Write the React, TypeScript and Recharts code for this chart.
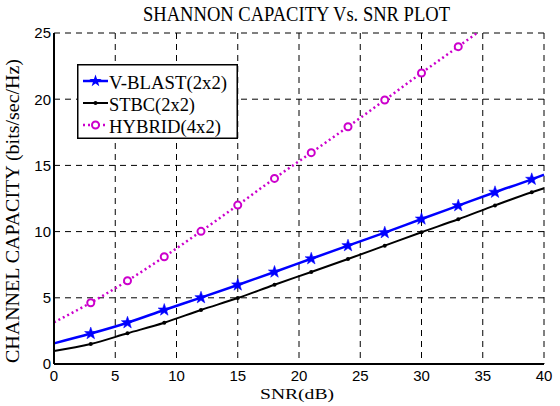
import { LineChart, Line, XAxis, YAxis, CartesianGrid, Legend, Label } from 'recharts';

const snr = [0, 3, 6, 9, 12, 15, 18, 21, 24, 27, 30, 33, 36, 39, 40];
const vblast = [1.56, 2.3, 3.12, 4.08, 5.01, 5.97, 6.95, 7.95, 8.94, 9.92, 10.95, 11.96, 12.97, 13.95, 14.3];
const stbc = [0.98, 1.51, 2.32, 3.12, 4.08, 4.98, 5.99, 6.95, 7.93, 8.94, 9.95, 10.93, 11.98, 12.97, 13.27];
const hybrid = [3.15, 4.63, 6.29, 8.1, 10.02, 12.0, 14.02, 15.96, 17.92, 19.94, 21.98, 23.97, 26.0, null, null];

const xTicks = [0, 5, 10, 15, 20, 25, 30, 35, 40];
const yTicks = [0, 5, 10, 15, 20, 25];

const seriesNames = ['V-BLAST(2x2)', 'STBC(2x2)', 'HYBRID(4x2)'];

const data = snr.map((s, i) => ({
  snr: s,
  vblast: vblast[i],
  stbc: stbc[i],
  hybrid: hybrid[i],
}));

const BLUE = '#0000ff';
const MAGENTA = '#cc00cc';
const serif = '"Liberation Serif", "Times New Roman", serif';
const sans = '"Liberation Sans", Arial, sans-serif';

// markers only at the 3 dB steps, not at the end points
const hasMarker = (p: any) => p && p.snr > 0 && p.snr < 40;

const starPoints = (cx: number, cy: number, r: number, r2: number) => {
  const pts: string[] = [];
  for (let k = 0; k < 10; k++) {
    const rad = k % 2 === 0 ? r : r2;
    const a = -Math.PI / 2 + (k * Math.PI) / 5;
    pts.push(`${cx + rad * Math.cos(a)},${cy + rad * Math.sin(a)}`);
  }
  return pts.join(' ');
};

const StarDot = (props: any) => {
  const { cx, cy, payload, index } = props;
  if (!hasMarker(payload) || cx == null || cy == null) return <g key={`s${index}`} />;
  return <polygon key={`s${index}`} points={starPoints(cx, cy, 6.5, 2.6)} fill={BLUE} stroke={BLUE} strokeWidth={0.5} />;
};

const SmallDot = (props: any) => {
  const { cx, cy, payload, index } = props;
  if (!hasMarker(payload) || cx == null || cy == null) return <g key={`d${index}`} />;
  return <circle key={`d${index}`} cx={cx} cy={cy} r={2} fill="#000" />;
};

const RingDot = (props: any) => {
  const { cx, cy, payload, index } = props;
  if (!hasMarker(payload) || cx == null || cy == null) return <g key={`r${index}`} />;
  return <circle key={`r${index}`} cx={cx} cy={cy} r={3.5} fill="#fff" stroke={MAGENTA} strokeWidth={2} />;
};

// legend rows: sample centre y, text width
const legendRows = [
  { y: 17, w: 118 },
  { y: 39, w: 86 },
  { y: 61, w: 112 },
];

const LegendBox = () => (
  <svg width={161} height={75} style={{ display: 'block' }}>
    <rect x={0.75} y={0.75} width={159.5} height={73.5} fill="#fff" stroke="#000" strokeWidth={1.5} />
    {legendRows.map((row, i) => (
      <g key={seriesNames[i]}>
        {i === 0 && (
          <>
            <line x1={6} y1={row.y} x2={31} y2={row.y} stroke={BLUE} strokeWidth={2.5} />
            <polygon points={starPoints(18.5, row.y, 6.5, 2.6)} fill={BLUE} />
          </>
        )}
        {i === 1 && (
          <>
            <line x1={6} y1={row.y} x2={31} y2={row.y} stroke="#000" strokeWidth={2} />
            <circle cx={18.5} cy={row.y} r={2} fill="#000" />
          </>
        )}
        {i === 2 && (
          <>
            <line x1={6} y1={row.y} x2={31} y2={row.y} stroke={MAGENTA} strokeWidth={2.5} strokeDasharray="2 3" />
            <circle cx={18.5} cy={row.y} r={3.5} fill="#fff" stroke={MAGENTA} strokeWidth={2} />
          </>
        )}
        <text
          x={32}
          y={row.y + 8}
          fontFamily={serif}
          fontSize={19.5}
          fill="#000"
          textLength={row.w}
          lengthAdjust="spacingAndGlyphs"
        >
          {seriesNames[i]}
        </text>
      </g>
    ))}
  </svg>
);

export default function App() {
  return (
    <div style={{ position: 'absolute', left: 0, top: 0, background: '#fff' }}>
      <LineChart width={560} height={406} data={data} margin={{ top: 33, right: 16, bottom: 0, left: 0 }}>
        <CartesianGrid stroke="#000" strokeDasharray="6 5" strokeWidth={1} xAxisId="bottom" yAxisId="left" />
        <XAxis
          xAxisId="bottom"
          dataKey="snr"
          type="number"
          domain={[0, 40]}
          ticks={xTicks}
          height={42}
          tickLine={false}
          tickSize={0}
          tickMargin={6}
          axisLine={{ stroke: '#000', strokeWidth: 2 }}
          tick={{ fill: '#000', fontSize: 15, fontFamily: sans }}
        >
          <Label
            content={() => (
              <g>
                <text
                  x={297}
                  y={399}
                  textAnchor="middle"
                  fontFamily={serif}
                  fontSize={15.5}
                  fill="#000"
                  textLength={74}
                  lengthAdjust="spacingAndGlyphs"
                >
                  SNR(dB)
                </text>
                <text
                  x={296.5}
                  y={21}
                  textAnchor="middle"
                  fontFamily={serif}
                  fontSize={20.5}
                  fill="#000"
                  textLength={307}
                  lengthAdjust="spacingAndGlyphs"
                >
                  SHANNON CAPACITY Vs. SNR PLOT
                </text>
              </g>
            )}
          />
        </XAxis>
        <XAxis
          xAxisId="top"
          orientation="top"
          dataKey="snr"
          type="number"
          domain={[0, 40]}
          height={0}
          tick={false}
          tickLine={false}
          axisLine={{ stroke: '#000', strokeWidth: 1.5 }}
        />
        <YAxis
          yAxisId="left"
          type="number"
          domain={[0, 25]}
          allowDataOverflow
          ticks={yTicks}
          width={54}
          tickLine={false}
          tickSize={0}
          tickMargin={3}
          axisLine={{ stroke: '#000', strokeWidth: 2 }}
          tick={{ fill: '#000', fontSize: 15, fontFamily: sans }}
        >
          <Label
            content={() => (
              <text
                x={19}
                y={211}
                textAnchor="middle"
                fontFamily={serif}
                fontSize={18}
                fill="#000"
                textLength={304}
                lengthAdjust="spacingAndGlyphs"
                transform="rotate(-90 19 211)"
              >
                CHANNEL CAPACITY (bits/sec/Hz)
              </text>
            )}
          />
        </YAxis>
        <YAxis
          yAxisId="right"
          orientation="right"
          type="number"
          domain={[0, 25]}
          width={0}
          tick={false}
          tickLine={false}
          axisLine={{ stroke: '#000', strokeWidth: 1.5 }}
        />
        <Legend
          layout="vertical"
          align="center"
          verticalAlign="middle"
          content={() => <LegendBox />}
          wrapperStyle={{ position: 'absolute', left: 77, top: 64, width: 'auto', height: 'auto' }}
        />
        <Line
          xAxisId="bottom"
          yAxisId="left"
          type="monotone"
          dataKey="hybrid"
          name={seriesNames[2]}
          stroke={MAGENTA}
          strokeWidth={2.5}
          strokeDasharray="2 3"
          dot={RingDot}
          activeDot={false}
          isAnimationActive={false}
        />
        <Line
          xAxisId="bottom"
          yAxisId="left"
          type="monotone"
          dataKey="stbc"
          name={seriesNames[1]}
          stroke="#000"
          strokeWidth={2}
          dot={SmallDot}
          activeDot={false}
          isAnimationActive={false}
        />
        <Line
          xAxisId="bottom"
          yAxisId="left"
          type="monotone"
          dataKey="vblast"
          name={seriesNames[0]}
          stroke={BLUE}
          strokeWidth={2.5}
          dot={StarDot}
          activeDot={false}
          isAnimationActive={false}
        />
      </LineChart>
    </div>
  );
}
